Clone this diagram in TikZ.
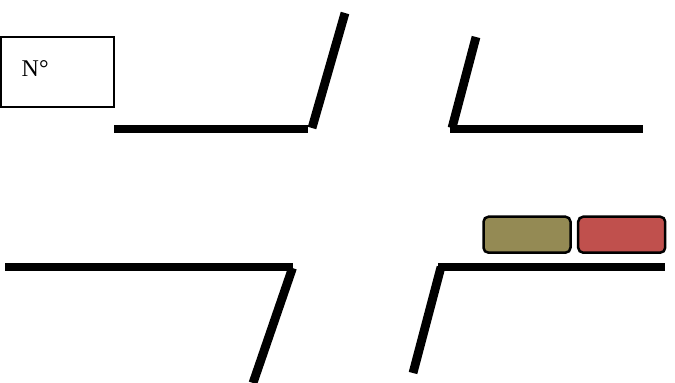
\documentclass[tikz,border=0pt]{standalone}
\usepackage{fontspec}
\setmainfont{Liberation Serif}
\definecolor{olivebox}{HTML}{948A54}
\definecolor{redbox}{HTML}{C0504D}
\tikzset{
    road/.style={line width=7.8pt},
    ramp/.style={line width=8.8pt},
    lamp/.style={draw, line width=2.5pt, rounded corners=5pt, minimum width=87pt, minimum height=36pt, inner sep=0pt},
    numbox/.style={draw, line width=2pt, minimum width=113.5pt, minimum height=70pt, inner sep=0pt}
}
\begin{document}
\begin{tikzpicture}[x=1pt, y=-1pt]
    \useasboundingbox (0,0) rectangle (675,383);
    
    % box with the number
    \node[numbox] (numbox) at (57.3,72) {};
    \node[font=\fontsize{24}{26}\selectfont, anchor=base west, inner sep=0pt] (numlabel) at (21.5,76) {N°};
    
    % upper roads
    \draw[road] (114,129) -- (308,129);
    \draw[ramp] (312,128) -- (345,13);
    \draw[road] (450,129) -- (643,129);
    \draw[ramp] (452,128) -- (476,37);
    
    % lower roads
    \draw[road] (5,267) -- (293,267);
    \draw[ramp] (292.5,268) -- (253,383);
    \draw[road] (438,267) -- (665,267);
    \draw[ramp] (441,267) -- (413,373);
    
    % two lamps
    \node[lamp, fill=olivebox] (lampleft) at (527,234.7) {};
    \node[lamp, fill=redbox] (lampright) at (621.7,234.7) {};
\end{tikzpicture}
\end{document}
